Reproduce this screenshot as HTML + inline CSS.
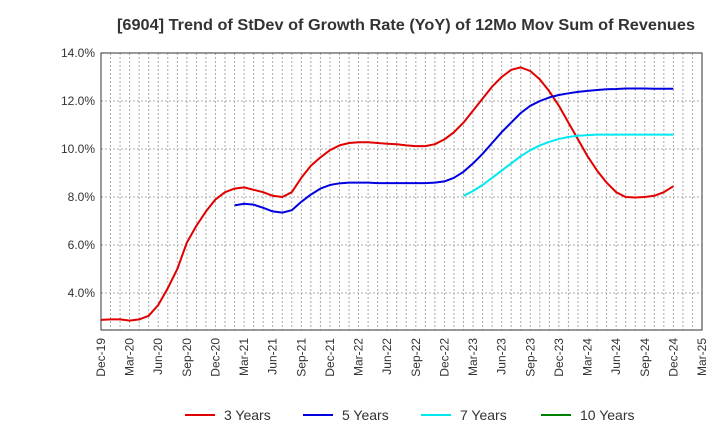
<!DOCTYPE html>
<html><head><meta charset="utf-8"><style>
body{margin:0;background:#fff;font-family:"Liberation Sans",sans-serif}
</style></head><body>
<svg id="c" width="720" height="440" xmlns="http://www.w3.org/2000/svg">
<text x="117" y="30" textLength="578" lengthAdjust="spacingAndGlyphs" font-size="16" font-weight="bold" fill="#333">[6904]  Trend of StDev of Growth Rate (YoY) of 12Mo Mov Sum of Revenues</text>
</svg>
<script>
const yTicks=[4,6,8,10,12,14];
const xLabels=["Dec-19","Mar-20","Jun-20","Sep-20","Dec-20","Mar-21","Jun-21","Sep-21","Dec-21","Mar-22","Jun-22","Sep-22","Dec-22","Mar-23","Jun-23","Sep-23","Dec-23","Mar-24","Jun-24","Sep-24","Dec-24","Mar-25"];
const s3start=0;
const s3=[2.88,2.9,2.9,2.85,2.9,3.05,3.5,4.2,5.0,6.1,6.8,7.4,7.9,8.2,8.35,8.4,8.3,8.2,8.05,8.0,8.2,8.8,9.3,9.65,9.95,10.15,10.25,10.28,10.28,10.25,10.22,10.2,10.15,10.12,10.12,10.2,10.4,10.7,11.1,11.6,12.1,12.6,13.0,13.3,13.4,13.25,12.9,12.4,11.8,11.1,10.4,9.7,9.1,8.6,8.2,8.0,7.98,8.0,8.05,8.2,8.45];
const s5start=14;
const s5=[7.65,7.72,7.68,7.55,7.4,7.35,7.45,7.8,8.1,8.35,8.5,8.57,8.6,8.6,8.6,8.58,8.58,8.58,8.58,8.58,8.58,8.6,8.65,8.8,9.05,9.4,9.8,10.25,10.7,11.1,11.5,11.8,12.0,12.15,12.25,12.32,12.38,12.42,12.46,12.49,12.5,12.52,12.52,12.52,12.51,12.51,12.51];
const s7start=38;
const s7=[8.05,8.25,8.5,8.8,9.1,9.4,9.7,9.95,10.15,10.3,10.42,10.5,10.55,10.58,10.6,10.6,10.6,10.6,10.6,10.6,10.6,10.6,10.6];
const NS="http://www.w3.org/2000/svg",svg=document.getElementById('c');
const L=101,R=702,T=53,B=330,months=63,yMin=14-(B-T)/24;
const X=i=>L+(R-L)*i/months, Y=v=>B-(v-yMin)/(14-yMin)*(B-T);
function mk(t,a){const e=document.createElementNS(NS,t);for(const k in a)e.setAttribute(k,a[k]);svg.appendChild(e);return e;}
for(let i=1;i<months;i++){const g=mk('line',{x1:X(i),x2:X(i),y1:T,y2:B,stroke:'#aaa','stroke-dasharray':'2,2'});

}
yTicks.forEach(v=>{const g=mk('line',{x1:L,x2:R,y1:Y(v),y2:Y(v),stroke:'#aaa','stroke-dasharray':'2,2'});


const t=mk('text',{x:L-6,y:Y(v)+4,'text-anchor':'end','font-size':12,fill:'#333'});t.textContent=v.toFixed(1)+'%';

});
xLabels.forEach((s,i)=>{const x=X(i*3),y=B+8;const t=mk('text',{x:x,y:y,transform:`rotate(-90 ${x} ${y})`,'text-anchor':'end','font-size':12,fill:'#333',dy:4});t.textContent=s;

});
const fr=mk('rect',{x:L,y:T,width:R-L,height:B-T,fill:'none',stroke:'#333'});


function line(d,st,c,n){const p=mk('polyline',{points:d.map((v,i)=>X(st+i)+','+Y(v)).join(' '),fill:'none',stroke:c,'stroke-width':2,'stroke-linejoin':'round'});

}
line(s3,s3start,'#e00000','series-3-years');
line(s5,s5start,'#0000e0','series-5-years');
line(s7,s7start,'#00e8f0','series-7-years');
const leg=[["3 Years","#e00000",185],["5 Years","#0000e0",303],["7 Years","#00e8f0",421],["10 Years","#008000",541]];
leg.forEach(([n,c,x])=>{const l=mk('line',{x1:x,x2:x+30,y1:415,y2:415,stroke:c,'stroke-width':2});


const t=mk('text',{x:x+39,y:420,'font-size':14,fill:'#333'});t.textContent=n;

});
</script>
</body></html>
